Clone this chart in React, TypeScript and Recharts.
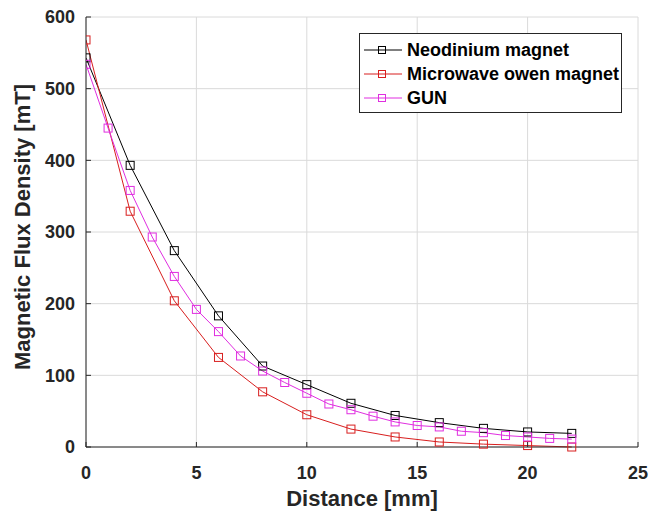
import React from 'react';
import { LineChart, Line, XAxis, YAxis, CartesianGrid, Label } from 'recharts';

const distanceEven = [0, 2, 4, 6, 8, 10, 12, 14, 16, 18, 20, 22];
const distanceAll = [0, 1, 2, 3, 4, 5, 6, 7, 8, 9, 10, 11, 12, 13, 14, 15, 16, 17, 18, 19, 20, 21, 22];
const neodinium = [543, 393, 274, 183, 113, 87, 61, 44, 34, 26, 21, 19];
const microwave = [568, 329, 204, 125, 77, 45, 25, 14, 7, 4, 2, 0];
const gun = [534, 445, 358, 293, 238, 192, 161, 127, 106, 90, 75, 60, 52, 43, 35, 30, 28, 22, 20, 16, 14, 12, 11];
const xTicks = [0, 5, 10, 15, 20, 25];
const yTicks = [0, 100, 200, 300, 400, 500, 600];
const seriesNames = ['Neodinium magnet', 'Microwave owen magnet', 'GUN'];
const seriesColors = ['#000000', '#d81e1e', '#e02ee0'];

const neoData = distanceEven.map((d, i) => ({ d, v: neodinium[i] }));
const micData = distanceEven.map((d, i) => ({ d, v: microwave[i] }));
const gunData = distanceAll.map((d, i) => ({ d, v: gun[i] }));
const seriesData = [neoData, micData, gunData];

const FONT = '"Liberation Sans", Arial, Helvetica, sans-serif';
const AXIS = '#262626';

const squareDot = (color: string) => (props: any) => {
  const { cx, cy, index } = props;
  if (cx == null || cy == null) return <g key={`e${index}`} />;
  return (
    <rect
      key={`s${index}`}
      x={cx - 4}
      y={cy - 4}
      width={8}
      height={8}
      fill="none"
      stroke={color}
      strokeWidth={1}
    />
  );
};

const tickStyle = { fontSize: 18, fontWeight: 700, fill: AXIS, fontFamily: FONT };

const YLabelContent = (props: any) => {
  const vb = props.viewBox || {};
  const cx = vb.x + 22;
  const cy = vb.y + vb.height / 2 - 5;
  return (
    <text
      x={cx}
      y={cy}
      transform={`rotate(-90, ${cx}, ${cy})`}
      textAnchor="middle"
      fontSize={22}
      fontWeight={700}
      fill={AXIS}
      fontFamily={FONT}
    >
      Magnetic Flux Density [mT]
    </text>
  );
};

const XLabelContent = (props: any) => {
  const vb = props.viewBox || {};
  const cx = vb.x + vb.width / 2;
  const cy = vb.y + 59;
  return (
    <text x={cx} y={cy} textAnchor="middle" fontSize={22} fontWeight={700} fill={AXIS} fontFamily={FONT}>
      Distance [mm]
    </text>
  );
};

const LegendBox = () => (
  <div style={{ position: 'absolute', left: 351, top: 25, width: 263, height: 80 }}>
    <svg width={263} height={80}>
      <rect x={0.5} y={0.5} width={262} height={79} fill="#ffffff" stroke={AXIS} strokeWidth={1} />
      {seriesNames.map((name, i) => {
        const cy = 17 + 24 * i;
        return (
          <g key={name}>
            <line x1={5} x2={43} y1={cy} y2={cy} stroke={seriesColors[i]} strokeWidth={1} />
            <rect x={19.5} y={cy - 3.5} width={7} height={7} fill="none" stroke={seriesColors[i]} strokeWidth={1} />
            <text
              x={48}
              y={cy}
              dominantBaseline="central"
              fontSize={18}
              fontWeight={700}
              fill="#000"
              fontFamily={FONT}
            >
              {name}
            </text>
          </g>
        );
      })}
    </svg>
  </div>
);

export default function App() {
  return (
    <div style={{ position: 'relative', width: 658, height: 507, background: '#fff' }}>
      <LineChart width={658} height={507} margin={{ top: 9, right: 28, left: 0, bottom: 28 }}>
        <CartesianGrid stroke="#dadada" strokeWidth={1} />
        <XAxis
          dataKey="d"
          type="number"
          domain={[0, 25]}
          ticks={xTicks}
          allowDataOverflow
          height={40}
          stroke={AXIS}
          tickSize={-5}
          tickMargin={24}
          tick={tickStyle}
          interval={0}
        >
          <Label content={XLabelContent} />
        </XAxis>
        <XAxis
          xAxisId="top"
          orientation="top"
          dataKey="d"
          type="number"
          domain={[0, 25]}
          ticks={xTicks}
          height={0}
          stroke={AXIS}
          tickSize={-5}
          tick={false}
        />
        <YAxis
          type="number"
          domain={[0, 600]}
          ticks={yTicks}
          width={78}
          stroke={AXIS}
          tickSize={-5}
          tickMargin={16}
          tick={tickStyle}
          interval={0}
        >
          <Label content={YLabelContent} />
        </YAxis>
        <YAxis
          yAxisId="right"
          orientation="right"
          type="number"
          domain={[0, 600]}
          ticks={yTicks}
          width={0}
          stroke={AXIS}
          tickSize={-5}
          tick={false}
        />
        {seriesData.map((data, i) => (
          <Line
            key={seriesNames[i]}
            data={data}
            dataKey="v"
            name={seriesNames[i]}
            type="linear"
            stroke={seriesColors[i]}
            strokeWidth={1}
            dot={squareDot(seriesColors[i])}
            activeDot={false}
            isAnimationActive={false}
          />
        ))}
      </LineChart>
      <LegendBox />
    </div>
  );
}
